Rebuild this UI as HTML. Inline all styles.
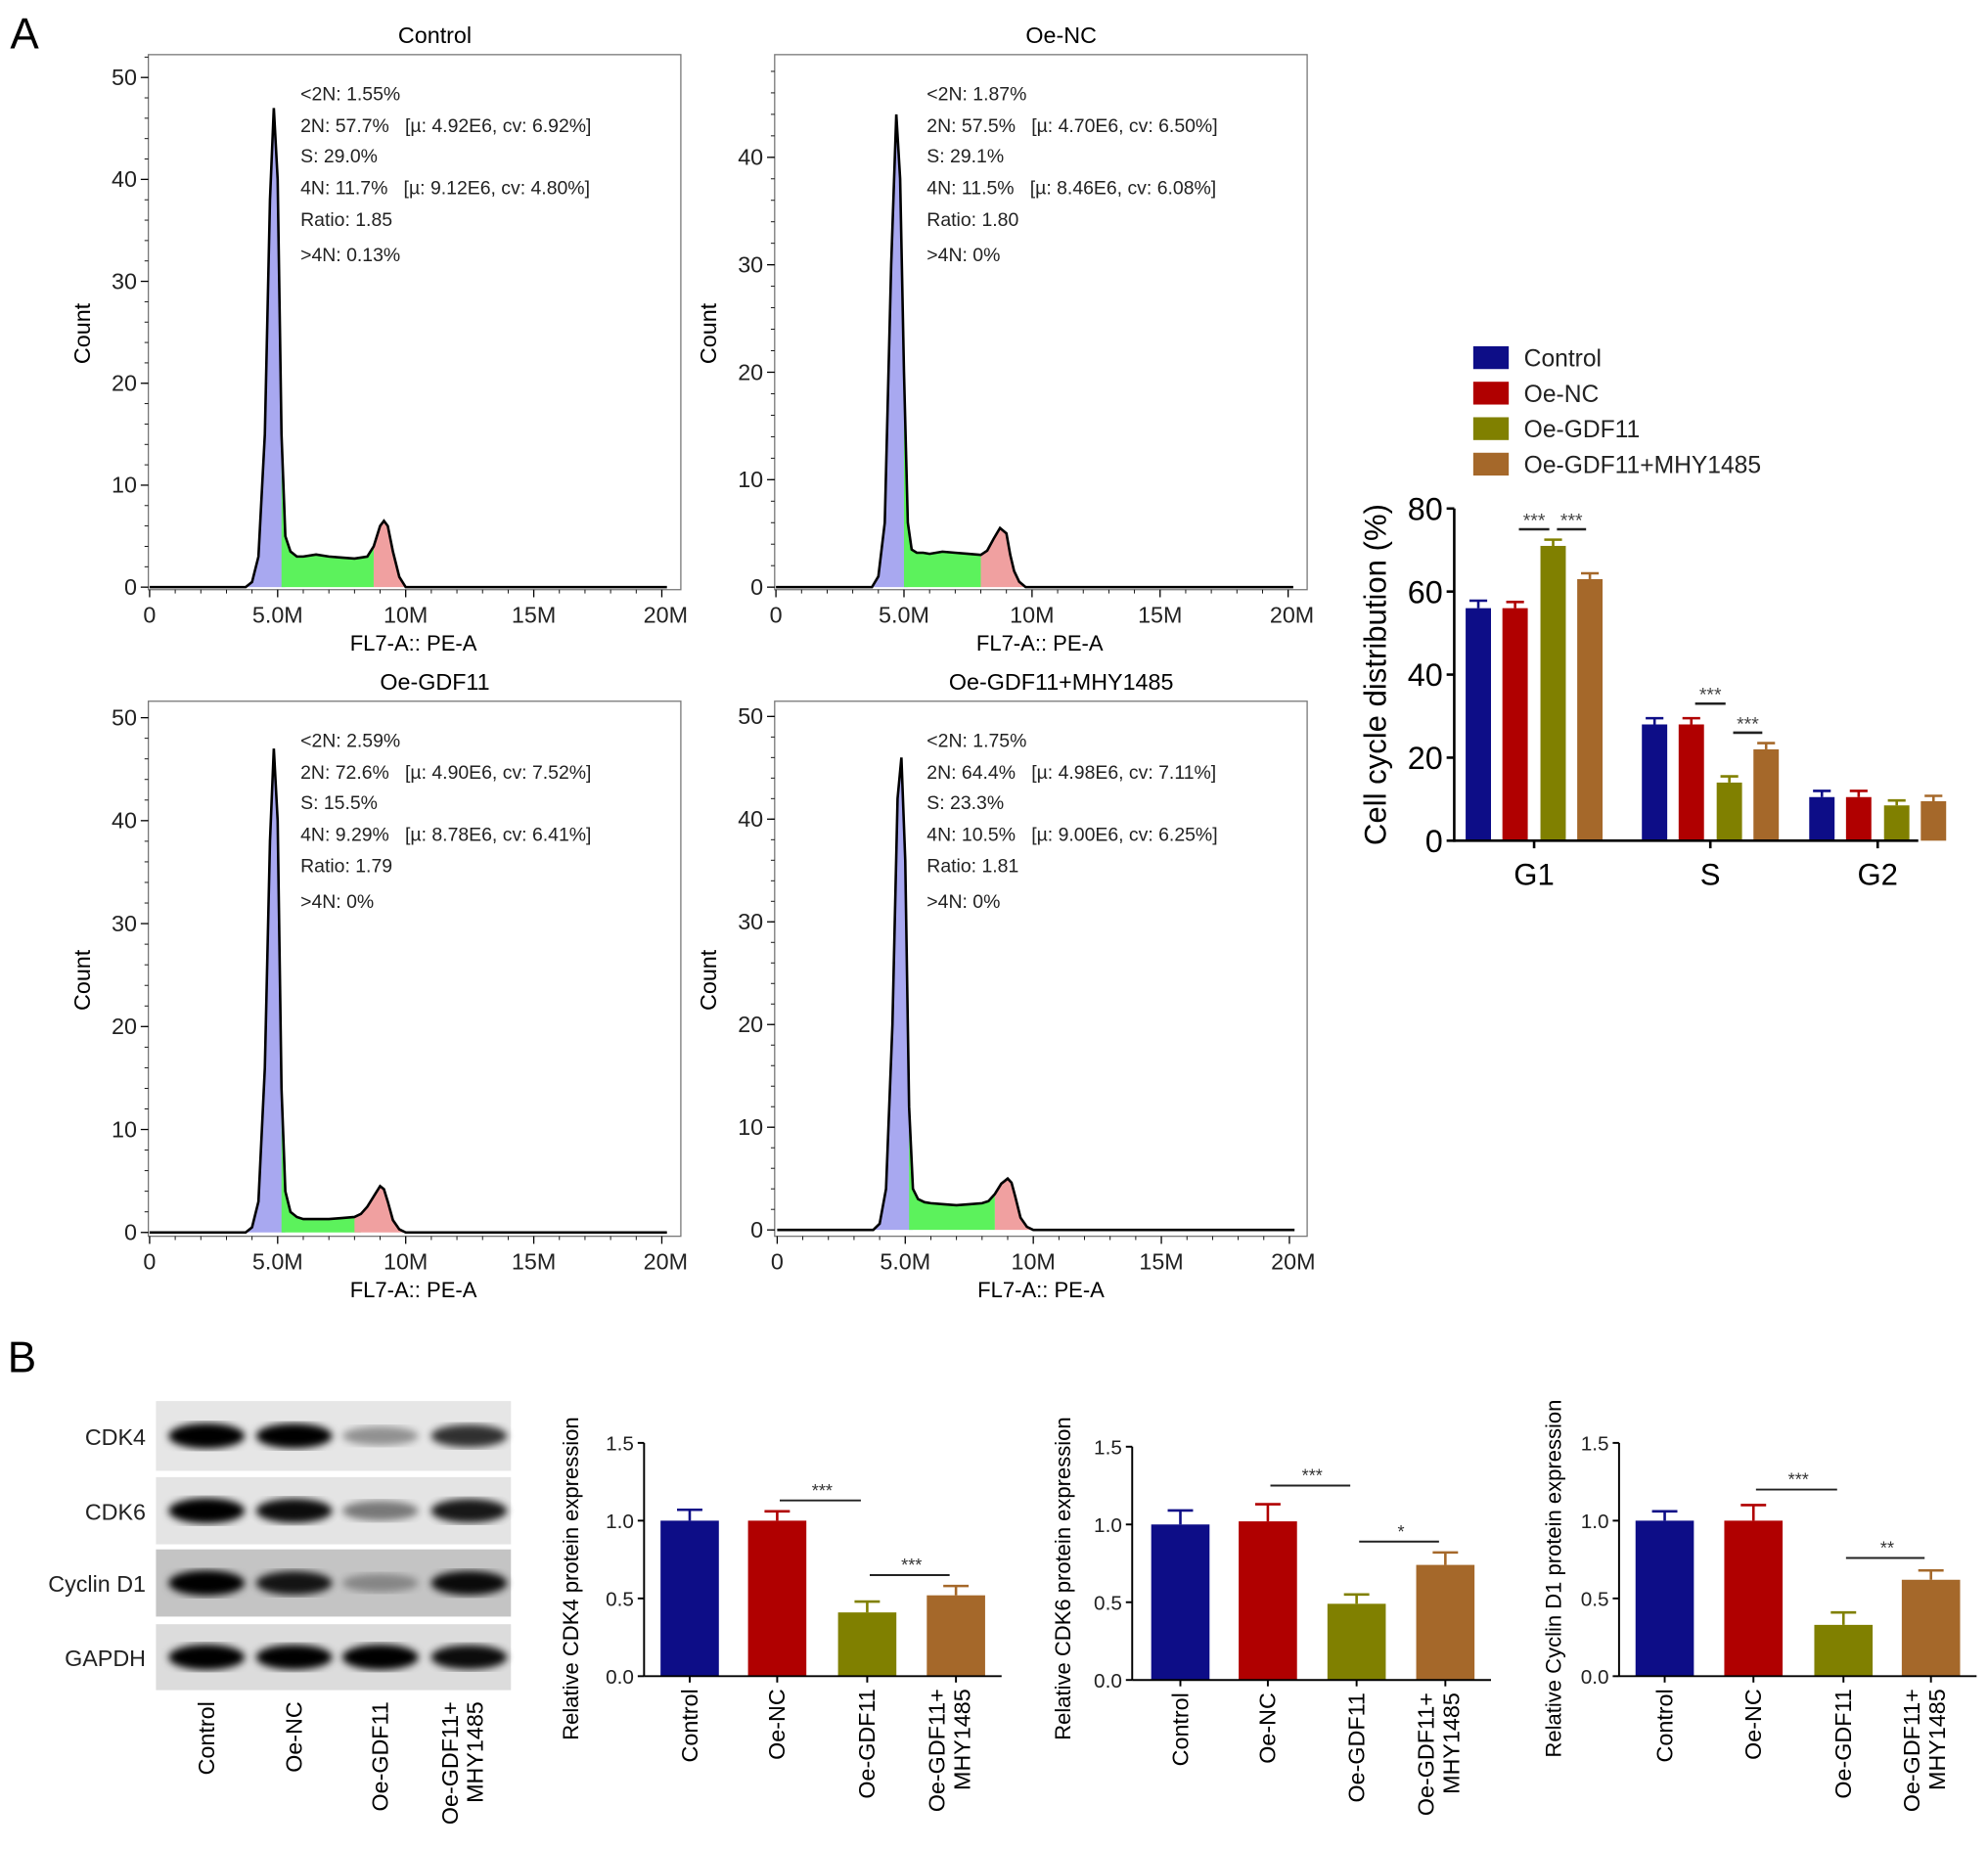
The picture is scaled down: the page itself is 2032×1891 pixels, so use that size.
<!DOCTYPE html>
<html><head><meta charset="utf-8"><style>
html,body{margin:0;padding:0;background:#fff}
svg{display:block;font-family:"Liberation Sans",Arial,sans-serif}
.pre{white-space:pre}
</style></head><body>
<svg id="fig" width="2032" height="1891" viewBox="0 0 1568 1459" xmlns="http://www.w3.org/2000/svg">
<text x="8" y="38" font-size="34">A</text>
<text x="6" y="1082" font-size="34">B</text>
<g id="hists"></g><g id="cc"></g><g id="blot"></g><g id="wb"></g>
</svg>
<script>
// ---------- Histogram data ----------
const xBins=[3.75,4.0,4.25,4.5,4.7,4.85,5.0,5.15,5.3,5.5,5.75,6.0,6.5,7.0,7.5,8.0,8.25,8.5,8.75,9.0,9.15,9.3,9.5,9.75,10.0];
const countsControl=[0,0.5,3,15,38,47,40,15,5,3.5,3,3,3.2,3,2.9,2.8,2.9,3,4,6,6.5,6,3.5,1,0];
const countsOeNC=[0,1,6,30,44,38,20,6,3.5,3.2,3.2,3.1,3.3,3.2,3.1,3,3.4,4.5,5.5,5,3,1.5,0.5,0,0];
const countsOeGDF11=[0,0.5,3,16,38,47,40,14,4,2,1.5,1.3,1.3,1.3,1.4,1.5,1.8,2.5,3.5,4.5,4.2,3,1.2,0.3,0];
const countsMHY=[0,0.6,4,20,42,46,36,12,4,3,2.7,2.6,2.5,2.4,2.5,2.6,2.8,3.5,4.5,5,4.6,3.2,1.2,0.3,0];
const histTitles=["Control","Oe-NC","Oe-GDF11","Oe-GDF11+MHY1485"];
const histStats=[
["<2N: 1.55%","2N: 57.7%   [µ: 4.92E6, cv: 6.92%]","S: 29.0%","4N: 11.7%   [µ: 9.12E6, cv: 4.80%]","Ratio: 1.85",">4N: 0.13%"],
["<2N: 1.87%","2N: 57.5%   [µ: 4.70E6, cv: 6.50%]","S: 29.1%","4N: 11.5%   [µ: 8.46E6, cv: 6.08%]","Ratio: 1.80",">4N: 0%"],
["<2N: 2.59%","2N: 72.6%   [µ: 4.90E6, cv: 7.52%]","S: 15.5%","4N: 9.29%   [µ: 8.78E6, cv: 6.41%]","Ratio: 1.79",">4N: 0%"],
["<2N: 1.75%","2N: 64.4%   [µ: 4.98E6, cv: 7.11%]","S: 23.3%","4N: 10.5%   [µ: 9.00E6, cv: 6.25%]","Ratio: 1.81",">4N: 0%"]];
const histYTicks=[[0,10,20,30,40,50],[0,10,20,30,40],[0,10,20,30,40,50],[0,10,20,30,40,50]];
const histXTicks=[0,5,10,15,20];
const histXTickLabels=["0","5.0M","10M","15M","20M"];
const phaseS=[5.2,5.0,5.2,5.1];
const phaseG2=[8.75,8.0,8.1,8.5];
// ---------- Cell cycle bar data ----------
const ccGroups=["G1","S","G2"];
const ccSeries=["Control","Oe-NC","Oe-GDF11","Oe-GDF11+MHY1485"];
const ccValues=[[56,28,10.5],[56,28,10.5],[71,14,8.5],[63,22,9.5]];
const ccErrors=[[1.8,1.5,1.5],[1.5,1.5,1.5],[1.5,1.5,1.2],[1.4,1.5,1.3]];
const ccTicks=[0,20,40,60,80];
// ---------- Western blot data ----------
const wbProteins=["CDK4","CDK6","Cyclin D1"];
const wbGroups=["Control","Oe-NC","Oe-GDF11","Oe-GDF11+ MHY1485"];
const wbCDK4=[1.0,1.0,0.41,0.52], wbCDK4err=[0.07,0.06,0.07,0.06];
const wbCDK6=[1.0,1.02,0.49,0.74], wbCDK6err=[0.09,0.11,0.06,0.08];
const wbCycD1=[1.0,1.0,0.33,0.62], wbCycD1err=[0.06,0.1,0.08,0.06];
const wbTicks=["0.0","0.5","1.0","1.5"];
const bandIntensity=[[1,0.95,0.35,0.75],[1,0.9,0.45,0.85],[1,0.85,0.3,0.9],[1,0.95,1,0.9]];

const NS="http://www.w3.org/2000/svg";
function mk(p,tag,at,txt){const e=document.createElementNS(NS,tag);for(const k in at)e.setAttribute(k,at[k]);if(txt!==undefined)e.textContent=txt;p.appendChild(e);return e;}
const colors=["#0d0d87","#b00000","#808000","#a5682a"];

// ---------- Histograms ----------
const hg=document.getElementById('hists');
const hLayout=[{bx:117,by:43,x0:118,y0:463,y10:80.4,tx:237},{bx:611,by:43,x0:612,y0:463,y10:84.75,tx:731},
{bx:117,by:553,x0:118,y0:972,y10:81.2,tx:237},{bx:611,by:553,x0:613,y0:970,y10:81,tx:731}];
const allCounts=[countsControl,countsOeNC,countsOeGDF11,countsMHY];
hLayout.forEach((L,i)=>{
  const g=mk(hg,'g',{});
  
  
  const xs=v=>L.x0+v*20.2, ys=v=>L.y0-v*L.y10/10;
  const bw=420,bh=422;
  const t=mk(g,'text',{x:L.bx+226,y:L.by-9,'font-size':18,'text-anchor':'middle'},histTitles[i]);
  
  const c=allCounts[i];
  function seg(lo,hi,col){
    let pts=[];for(let k=0;k<xBins.length;k++){if(xBins[k]>=lo&&xBins[k]<=hi)pts.push([xBins[k],c[k]]);}
    if(pts.length<2)return;
    let d='M'+xs(pts[0][0])+','+ys(0);pts.forEach(p=>d+=' L'+xs(p[0])+','+ys(p[1]));d+=' L'+xs(pts[pts.length-1][0])+','+ys(0)+'Z';
    const e=mk(g,'path',{d:d,fill:col,stroke:'none'});
    
  }
  seg(0,phaseS[i]+0.2,'#a8a8f0');seg(phaseS[i]-0.05,phaseG2[i]+0.15,'#5cf25c');seg(phaseG2[i]-0.1,11,'#f0a0a0');
  mk(g,'rect',{x:L.bx,y:L.by,width:bw,height:bh,fill:'none',stroke:'#777','stroke-width':1});
  let d='M'+xs(0)+','+ys(0)+' L'+xs(xBins[0])+','+ys(0);
  xBins.forEach((x,k)=>d+=' L'+xs(x)+','+ys(c[k]));d+=' L'+xs(20.2)+','+ys(0);
  const ln=mk(g,'path',{d:d,fill:'none',stroke:'#000','stroke-width':2});
  
  histYTicks[i].forEach(v=>{mk(g,'line',{x1:L.bx-6,x2:L.bx,y1:ys(v),y2:ys(v),stroke:'#000'});
    const tl=mk(g,'text',{x:L.bx-9,y:ys(v)+6,'font-size':18,'text-anchor':'end',fill:'#222'},v);
    });
  for(let v=0;v<=histYTicks[i][histYTicks[i].length-1]+8;v+=2){if(ys(v)>=L.by)mk(g,'line',{x1:L.bx-3,x2:L.bx,y1:ys(v),y2:ys(v),stroke:'#000','stroke-width':0.7});}
  for(let v=0;v<=20;v++)mk(g,'line',{x1:xs(v),x2:xs(v),y1:L.by+bh,y2:L.by+bh+(v%5?3:6),stroke:'#000','stroke-width':v%5?0.7:1});
  histXTicks.forEach((v,k)=>{const tl=mk(g,'text',{x:xs(v)+(k==4?3:0),y:L.by+bh+26,'font-size':18,'text-anchor':'middle',fill:'#222'},histXTickLabels[k]);
    });
  const xl=mk(g,'text',{x:xs(10.3),y:L.by+bh+48,'font-size':17,'text-anchor':'middle'},'FL7-A:: PE-A');
  
  const yl=mk(g,'text',{x:0,y:0,'font-size':18,'text-anchor':'middle',transform:`translate(${L.bx-46},${L.by+220}) rotate(-90)`},'Count');
  
  const ly=[36,61,85,110,135,163];
  histStats[i].forEach((s,k)=>{const st=mk(g,'text',{x:L.tx,y:L.by+ly[k],'font-size':15,fill:'#222','class':'pre'},s);
    });
});

// ---------- Cell cycle bar chart ----------
const cg=document.getElementById('cc');
(function(){
  const ax=1147,y0=663,k=(663-401)/80, gx=[1210,1349,1481], off=[-44,-15,15,44], bw=20;
  const ys=v=>y0-v*k;
  ccSeries.forEach((s,i)=>{
    const r=mk(cg,'rect',{x:1162,y:282+i*28-9,width:28,height:18,fill:colors[i]});
    
    const t=mk(cg,'text',{x:1202,y:282+i*28+7,'font-size':19,fill:'#222'},s);
    
  });
  ccGroups.forEach((gname,j)=>{
    ccSeries.forEach((s,i)=>{
      const cx=gx[j]+off[i],v=ccValues[i][j],e=ccErrors[i][j];
      mk(cg,'line',{x1:cx,x2:cx,y1:ys(v),y2:ys(v+e),stroke:colors[i],'stroke-width':2});
      mk(cg,'line',{x1:cx-7,x2:cx+7,y1:ys(v+e),y2:ys(v+e),stroke:colors[i],'stroke-width':2});
      const b=mk(cg,'rect',{x:cx-bw/2,y:ys(v),width:bw,height:v*k,fill:colors[i]});
      
    });
    mk(cg,'line',{x1:gx[j],x2:gx[j],y1:y0,y2:y0+6,stroke:'#000','stroke-width':2});
    const t=mk(cg,'text',{x:gx[j],y:y0+35,'font-size':24,'text-anchor':'middle'},gname);
    
  });
  mk(cg,'line',{x1:ax,x2:ax,y1:401,y2:y0+1,stroke:'#000','stroke-width':2});
  mk(cg,'line',{x1:ax,x2:1513,y1:y0,y2:y0,stroke:'#000','stroke-width':2});
  ccTicks.forEach(v=>{mk(cg,'line',{x1:ax-6,x2:ax,y1:ys(v),y2:ys(v),stroke:'#000','stroke-width':2});
    const t=mk(cg,'text',{x:ax-9,y:ys(v)+9,'font-size':25,'text-anchor':'end'},v);
    });
  const yl=mk(cg,'text',{x:0,y:0,'font-size':24,'text-anchor':'middle',transform:'translate(1093,532) rotate(-90)'},'Cell cycle distribution (%)');
  
  const sig=[[0,1,2,'***'],[0,2,3,'***'],[1,1,2,'***'],[1,2,3,'***']];
  sig.forEach(s=>{
    const j=s[0],a=gx[j]+off[s[1]],b=gx[j]+off[s[2]];
    const top=Math.max(ccValues[s[1]][j]+ccErrors[s[1]][j],ccValues[s[2]][j]+ccErrors[s[2]][j]);
    let yy = j==0 ? ys(top+2.5) : (s[1]==1? ys(ccValues[1][j]+ccErrors[1][j]+3.5) : ys(top+2.5));
    mk(cg,'line',{x1:a+3,x2:b-3,y1:yy,y2:yy,stroke:'#222','stroke-width':2});
    const t=mk(cg,'text',{x:(a+b)/2,y:yy-2,'font-size':15,'text-anchor':'middle',fill:'#444'},s[3]);
    
  });
})();

// ---------- Blot ----------
const bg=document.getElementById('blot');
(function(){
  const rows=[[1105,1160,'#e6e6e6','CDK4'],[1165,1218,'#e4e4e4','CDK6'],[1222,1275,'#c4c4c4','Cyclin D1'],[1281,1333,'#dcdcdc','GAPDH']];
  const lanes=[163,232,300,370];
  const defs=mk(bg,'defs',{});
  const f=mk(defs,'filter',{id:'blur'});mk(f,'feGaussianBlur',{stdDeviation:3});
  rows.forEach((r,i)=>{
    const rr=mk(bg,'rect',{x:123,y:r[0],width:280,height:r[1]-r[0],fill:r[2]});
    
    const cy=(r[0]+r[1])/2;
    lanes.forEach((lx,k)=>{const a=bandIntensity[i][k];
      mk(bg,'ellipse',{cx:lx,cy:cy,rx:30,ry:6+4*a,fill:'#000',opacity:Math.min(1,a*1.05),filter:'url(#blur)'});});
    const t=mk(bg,'text',{x:115,y:cy+7,'font-size':18,'text-anchor':'end',fill:'#222'},r[3]);
    
  });
  const lab=[["Control"],["Oe-NC"],["Oe-GDF11"],["Oe-GDF11+","MHY1485"]];
  lab.forEach((l,k)=>{l.forEach((s,m)=>{
    const off=l.length>1?(m==0?-9:11):6;
    const t=mk(bg,'text',{x:0,y:0,'font-size':18,'text-anchor':'end',transform:`translate(${lanes[k]+off},1342) rotate(-90)`},s);
    });});
})();

// ---------- WB quantification charts ----------
const wg=document.getElementById('wb');
const wbCharts=[{ax:508,y0:1322,y15:1138,cx:[544,613,684,754],vals:wbCDK4,errs:wbCDK4err,label:'Relative CDK4 protein expression',lx:450,sig:[[1,2,'***',0.07],[2,3,'***',0.07]]},
{ax:893,y0:1325,y15:1141,cx:[931,1000,1070,1140],vals:wbCDK6,errs:wbCDK6err,label:'Relative CDK6 protein expression',lx:838,sig:[[1,2,'***',0.12],[2,3,'*',0.07]]},
{ax:1277,y0:1322,y15:1138,cx:[1313,1383,1454,1523],vals:wbCycD1,errs:wbCycD1err,label:'Relative Cyclin D1 protein expression',lx:1225,sig:[[1,2,'***',0.1],[2,3,'**',0.08]]}];
wbCharts.forEach((C,ci)=>{
  const g=mk(wg,'g',{});
  
  const k=(C.y0-C.y15)/1.5, ys=v=>C.y0-v*k;
  C.vals.forEach((v,i)=>{
    const x=C.cx[i],e=C.errs[i];
    mk(g,'line',{x1:x,x2:x,y1:ys(v),y2:ys(v+e),stroke:colors[i],'stroke-width':2});
    mk(g,'line',{x1:x-10,x2:x+10,y1:ys(v+e),y2:ys(v+e),stroke:colors[i],'stroke-width':2});
    const b=mk(g,'rect',{x:x-23,y:ys(v),width:46,height:v*k,fill:colors[i]});
    
    mk(g,'line',{x1:x,x2:x,y1:C.y0,y2:C.y0+5,stroke:'#000','stroke-width':1.5});
  });
  mk(g,'line',{x1:C.ax,x2:C.ax,y1:C.y15,y2:C.y0,stroke:'#000','stroke-width':1.5});
  mk(g,'line',{x1:C.ax,x2:C.cx[3]+36,y1:C.y0,y2:C.y0,stroke:'#000','stroke-width':1.5});
  wbTicks.forEach(t=>{const v=parseFloat(t);mk(g,'line',{x1:C.ax-5,x2:C.ax,y1:ys(v),y2:ys(v),stroke:'#000','stroke-width':1.5});
    const tl=mk(g,'text',{x:C.ax-8,y:ys(v)+6,'font-size':16,'text-anchor':'end',fill:'#222'},t);
    });
  const yl=mk(g,'text',{x:0,y:0,'font-size':17,'text-anchor':'middle',transform:`translate(${C.lx+6},${1245}) rotate(-90)`},C.label);
  
  const lab=[["Control"],["Oe-NC"],["Oe-GDF11"],["Oe-GDF11+","MHY1485"]];
  lab.forEach((l,i)=>l.forEach((s,m)=>{const off=l.length>1?(m==0?-9:11):6;
    const t=mk(g,'text',{x:0,y:0,'font-size':18,'text-anchor':'end',transform:`translate(${C.cx[i]+off},${C.y0+10}) rotate(-90)`},s);
    }));
  C.sig.forEach(s=>{
    const a=C.cx[s[0]],b=C.cx[s[1]];
    const top=Math.max(C.vals[s[0]]+C.errs[s[0]],C.vals[s[1]]+C.errs[s[1]]);
    const yy=ys(top+s[3]);
    mk(g,'line',{x1:a+2,x2:b-5,y1:yy,y2:yy,stroke:'#222','stroke-width':1.5});
    const t=mk(g,'text',{x:(a+b)/2,y:yy-3,'font-size':14,'text-anchor':'middle',fill:'#333'},s[2]);
    
  });
});
</script>
</body></html>
